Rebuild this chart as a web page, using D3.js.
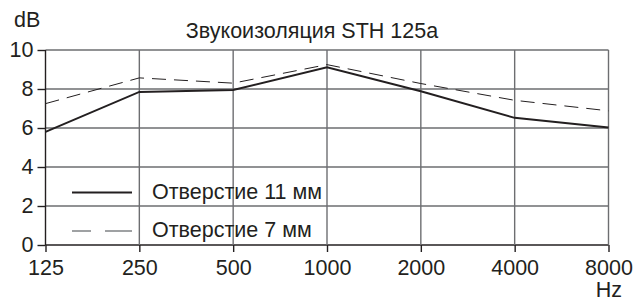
<!DOCTYPE html>
<html>
<head>
<meta charset="utf-8">
<script src="https://cdn.jsdelivr.net/npm/d3@7"></script>
<style>
  body { margin: 0; background: #fff; }
  text { font-family: "Liberation Sans", Arial, sans-serif; fill: #231f20; }
</style>
</head>
<body>
<div id="chart"></div>
<script>
// chart data
var freqs = [125, 250, 500, 1000, 2000, 4000, 8000];
var hole11 = [5.8, 7.85, 7.95, 9.12, 7.88, 6.52, 6.02];
var hole7 = [7.25, 8.57, 8.3, 9.25, 8.28, 7.42, 6.88];
var yTicks = [0, 2, 4, 6, 8, 10];
var seriesNames = ["Отверстие 11 мм", "Отверстие 7 мм"];
var title = "Звукоизоляция STH 125a";

var width = 633, height = 301;
var margin = {top: 50, right: 24.5, bottom: 56, left: 45.5};
var fontSize = "21.5px";

var svg = d3.select("#chart").append("svg")
    .attr("width", width)
    .attr("height", height);

var x = d3.scalePoint().domain(freqs).range([margin.left, width - margin.right]);
var y = d3.scaleLinear().domain([0, 10]).range([height - margin.bottom, margin.top]);

// grid
svg.append("g").selectAll("line.h")
    .data(yTicks)
    .enter().append("line")
    .attr("x1", x(125)).attr("x2", x(8000))
    .attr("y1", d => y(d)).attr("y2", d => y(d))
    .style("stroke", d => d == 0 ? "#231f20" : "#6d6e71")
    .style("stroke-width", 1.4);

svg.append("g").selectAll("line.v")
    .data(freqs)
    .enter().append("line")
    .attr("x1", d => x(d)).attr("x2", d => x(d))
    .attr("y1", y(10)).attr("y2", y(0))
    .style("stroke", d => d == 125 ? "#231f20" : "#6d6e71")
    .style("stroke-width", 1.4);

// axes
var yAxis = d3.axisLeft(y).tickValues(yTicks).tickSize(8).tickPadding(4);
var gy = svg.append("g").attr("transform", "translate(" + x(125) + ",0)").call(yAxis);
var xAxis = d3.axisBottom(x).tickSize(7).tickPadding(8);
var gx = svg.append("g").attr("transform", "translate(0," + y(0) + ")").call(xAxis);
[gx, gy].forEach(function (g) {
    g.select(".domain").remove();
    g.selectAll("line").style("stroke", "#231f20").style("stroke-width", 1.4);
    g.selectAll("text").style("font-size", fontSize)
        .style("font-family", '"Liberation Sans", Arial, sans-serif').style("fill", "#231f20");
});

// lines
var line = d3.line().x((d, i) => x(freqs[i])).y(d => y(d));
svg.append("path").datum(hole7)
    .attr("d", line)
    .style("fill", "none").style("stroke", "#231f20")
    .style("stroke-width", 1).style("stroke-dasharray", "14,8");
svg.append("path").datum(hole11)
    .attr("d", line)
    .style("fill", "none").style("stroke", "#231f20")
    .style("stroke-width", 2);

// labels
svg.append("text").attr("x", 14).attr("y", 27).style("font-size", fontSize).text("dB");
svg.append("text").attr("x", 312).attr("y", 38).attr("text-anchor", "middle")
    .style("font-size", fontSize).text(title);
svg.append("text").attr("x", 622).attr("y", 297).attr("text-anchor", "end")
    .style("font-size", fontSize).text("Hz");

// legend
var leg = svg.append("g");
leg.append("line").attr("x1", 72).attr("x2", 132).attr("y1", 192.5).attr("y2", 192.5)
    .style("stroke", "#231f20").style("stroke-width", 2);
leg.append("line").attr("x1", 72).attr("x2", 132).attr("y1", 231).attr("y2", 231)
    .style("stroke", "#808285").style("stroke-width", 1.4).style("stroke-dasharray", "19,14,27");
leg.selectAll("text.leg")
    .data(seriesNames)
    .enter().append("text")
    .attr("x", 152)
    .attr("y", (d, i) => 199 + i * 38)
    .style("font-size", fontSize)
    .text(d => d);
</script>
</body>
</html>
